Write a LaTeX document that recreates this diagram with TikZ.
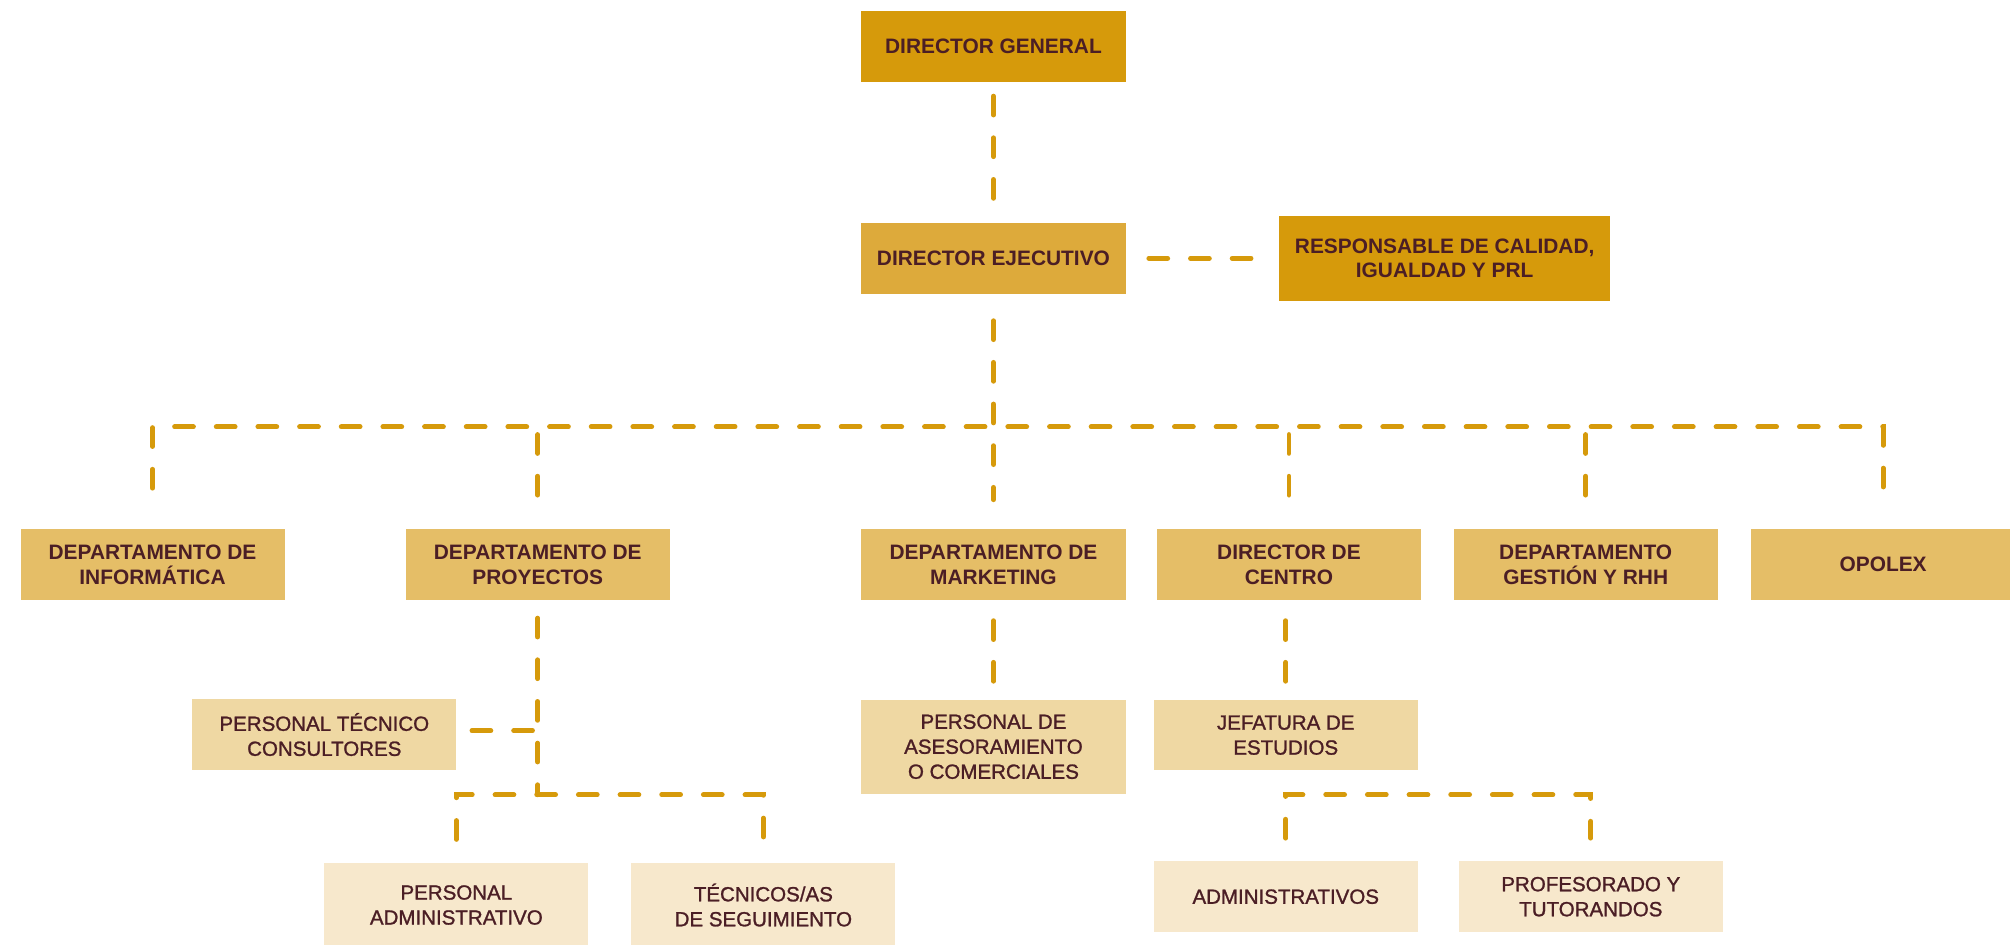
\documentclass[tikz,border=0pt]{standalone}
\usepackage{fontspec}
\setmainfont{Liberation Sans}
\newfontfamily\medfont[FakeBold=1.2]{Liberation Sans}
\usetikzlibrary{calc}
\definecolor{gold}{HTML}{D69A0B}
\definecolor{goldB}{HTML}{DDAA3B}
\definecolor{goldC}{HTML}{E5BE67}
\definecolor{goldD}{HTML}{EFD8A3}
\definecolor{goldE}{HTML}{F7E8CC}
\definecolor{ink}{HTML}{4B1E25}
\begin{document}
\begin{tikzpicture}[x=1pt,y=-1pt,
  box/.style={rectangle, inner sep=0pt, minimum width=206pt, minimum height=55pt,
    align=center, text=ink, font=\fontsize{16.3}{19.5}\selectfont\bfseries},
  lbox/.style={box, font=\medfont\fontsize{16}{19.5}\selectfont},
  conn/.style={draw=gold, line width=3.8pt, line cap=round, dash pattern=on 14.7pt off 17.8pt}]
\useasboundingbox[fill=white] (0,0) rectangle (1568,737);

% top
\node[box, fill=gold] (dg) at (775,36.3) {DIRECTOR GENERAL};
\node[box, fill=goldB] (de) at (775,201.5) {DIRECTOR EJECUTIVO};
\node[box, fill=gold, minimum width=258pt, minimum height=66pt] (resp) at (1127,201.5) {RESPONSABLE DE CALIDAD,\\IGUALDAD Y PRL};

% department row
\node[box, fill=goldC] (inf) at (119,440.5) {DEPARTAMENTO DE\\INFORMÁTICA};
\node[box, fill=goldC] (proy) at (419.5,440.5) {DEPARTAMENTO DE\\PROYECTOS};
\node[box, fill=goldC] (mkt) at (775,440.5) {DEPARTAMENTO DE\\MARKETING};
\node[box, fill=goldC] (cen) at (1005.5,440.5) {DIRECTOR DE\\CENTRO};
\node[box, fill=goldC] (ges) at (1237,440.5) {DEPARTAMENTO\\GESTIÓN Y RHH};
\node[box, fill=goldC] (opo) at (1469,440.5) {OPOLEX};

% third level
\node[lbox, fill=goldD] (ptc) at (253,573) {PERSONAL TÉCNICO\\CONSULTORES};
\node[lbox, fill=goldD, minimum height=73pt] (ase) at (775,582.5) {PERSONAL DE\\ASESORAMIENTO\\O COMERCIALES};
\node[lbox, fill=goldD] (jef) at (1003,573.5) {JEFATURA DE\\ESTUDIOS};

% bottom level
\node[lbox, fill=goldE, minimum height=66pt] (pad) at (356,706) {PERSONAL\\ADMINISTRATIVO};
\node[lbox, fill=goldE, minimum height=66pt] (tec) at (595.5,706) {TÉCNICOS/AS\\DE SEGUIMIENTO};
\node[lbox, fill=goldE] (adm) at (1003,699.5) {ADMINISTRATIVOS};
\node[lbox, fill=goldE] (pro) at (1241,699.5) {PROFESORADO Y\\TUTORANDOS};

% connectors
\coordinate (bus) at (775,333);
\coordinate (pbus) at (419.5,620);
\coordinate (jbus) at (1003,620);

\draw[conn] ([yshift=-11pt]dg.south) -- ([yshift=16pt]de.north);
\draw[conn] ([xshift=18pt]de.east) -- ([xshift=-18pt]resp.west);
\draw[conn] ([yshift=-21pt]de.south) -- ([yshift=23pt]mkt.north);
\draw[conn] ([yshift=32pt]inf.north) |- (bus) -| ([yshift=32pt]opo.north);
\foreach \n in {proy,cen,ges}
  \draw[conn] ($(\n.north |- bus)+(0,6)$) -- ([yshift=23pt]\n.north);

\draw[conn] ([yshift=-14pt]proy.south) -- (proy.south |- pbus);
\draw[conn] ([xshift=12pt,yshift=3pt]ptc.east) -- ([yshift=3pt]ptc.east -| proy.south);
\draw[conn] ([yshift=18pt]pad.north) |- (pbus) -| ([yshift=18pt]tec.north);

\draw[conn] ([yshift=-16pt]mkt.south) -- ([yshift=10pt]ase.north);
\draw[conn] ([yshift=-16pt]cen.south -| jef.north) -- ([yshift=10pt]jef.north);
\draw[conn] ([yshift=18pt]adm.north) |- (jbus) -| ([yshift=18pt]pro.north);
\end{tikzpicture}
\end{document}
